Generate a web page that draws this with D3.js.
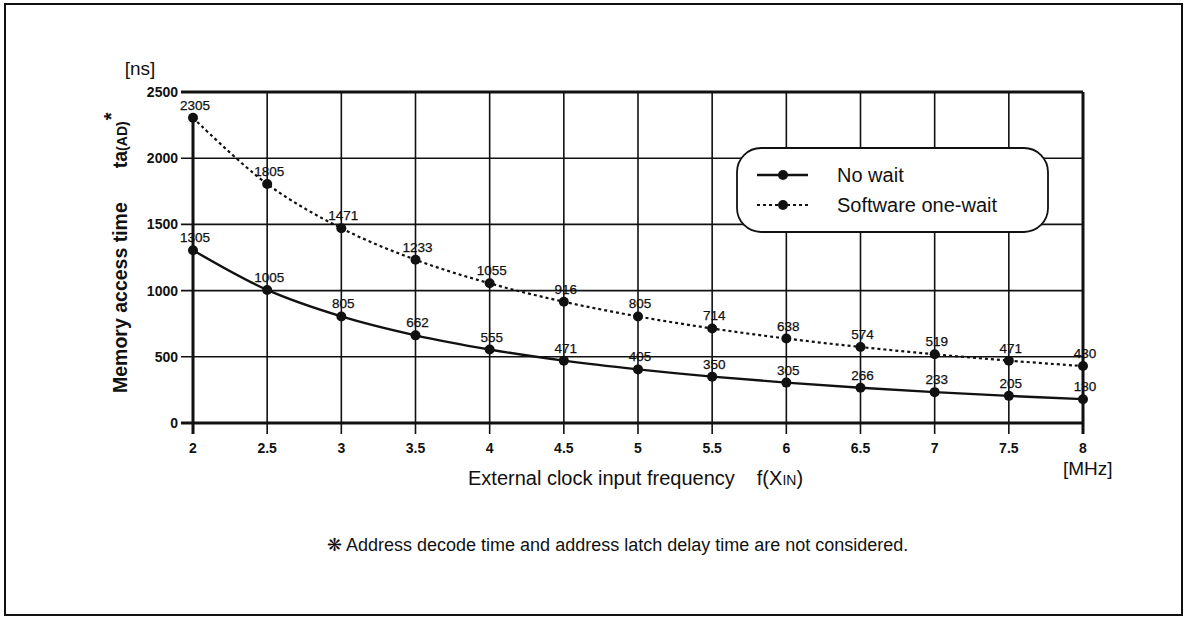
<!DOCTYPE html>
<html>
<head>
<meta charset="utf-8">
<script src="https://cdn.jsdelivr.net/npm/d3@7"></script>
<style>
  html, body { margin: 0; padding: 0; background: #fff; }
  svg { display: block; }
  text { font-family: "Liberation Sans", Arial, Helvetica, sans-serif; fill: #111; }
</style>
</head>
<body>
<svg id="chart" width="1188" height="618"></svg>
<script>
// Clock frequency (MHz) on the x axis
const frequencies = [2, 2.5, 3, 3.5, 4, 4.5, 5, 5.5, 6, 6.5, 7, 7.5, 8];
// Memory access time ta(AD) in ns
const noWait = [1305, 1005, 805, 662, 555, 471, 405, 350, 305, 266, 233, 205, 180];
const oneWait = [2305, 1805, 1471, 1233, 1055, 916, 805, 714, 638, 574, 519, 471, 430];
const yTicks = [0, 500, 1000, 1500, 2000, 2500];
const xTicks = [2, 2.5, 3, 3.5, 4, 4.5, 5, 5.5, 6, 6.5, 7, 7.5, 8];
const seriesNames = ["No wait", "Software one-wait"];

const svg = d3.select("#chart");
const ink = "#111";

// outer frame
svg.append("rect")
  .attr("x", 5).attr("y", 4).attr("width", 1177).attr("height", 611)
  .attr("fill", "none").attr("stroke", ink).attr("stroke-width", 2);

const x = d3.scaleLinear().domain([2, 8]).range([193, 1083]);
const y = d3.scaleLinear().domain([0, 2500]).range([423, 92]);

const grid = svg.append("g");

// horizontal grid lines with left tick stubs
grid.selectAll("line.h")
  .data(yTicks)
  .join("line")
  .attr("x1", 181).attr("x2", x(8))
  .attr("y1", d => y(d)).attr("y2", d => y(d))
  .attr("stroke", ink)
  .attr("stroke-width", d => (d === 0 || d === 2500) ? 3 : 1.6);

// vertical grid lines with bottom tick stubs
grid.selectAll("line.v")
  .data(xTicks)
  .join("line")
  .attr("x1", d => x(d)).attr("x2", d => x(d))
  .attr("y1", d => d === 2 ? y(oneWait[0]) : y(2500))
  .attr("y2", y(0) + 11)
  .attr("stroke", ink)
  .attr("stroke-width", d => (d === 2 || d === 8) ? 3 : 1.6);

// y tick labels
svg.append("g").selectAll("text")
  .data(yTicks)
  .join("text")
  .attr("x", 178).attr("y", d => y(d) + 5)
  .attr("text-anchor", "end")
  .attr("font-size", 14).attr("font-weight", "bold")
  .text(d => d);

// x tick labels
svg.append("g").selectAll("text")
  .data(xTicks)
  .join("text")
  .attr("x", d => x(d)).attr("y", 453)
  .attr("text-anchor", "middle")
  .attr("font-size", 14).attr("font-weight", "bold")
  .text(d => d);

// curves
const line = d3.line()
  .x((d, i) => x(frequencies[i]))
  .y(d => y(d))
  .curve(d3.curveCatmullRom.alpha(0.5));

svg.append("path").datum(oneWait)
  .attr("d", line).attr("fill", "none")
  .attr("stroke", ink).attr("stroke-width", 2.2)
  .attr("stroke-dasharray", "3,3");

svg.append("path").datum(noWait)
  .attr("d", line).attr("fill", "none")
  .attr("stroke", ink).attr("stroke-width", 2.4);

// points and value labels
[noWait, oneWait].forEach(series => {
  const g = svg.append("g");
  g.selectAll("circle")
    .data(series)
    .join("circle")
    .attr("cx", (d, i) => x(frequencies[i]))
    .attr("cy", d => y(d))
    .attr("r", 5)
    .attr("fill", ink);
  g.selectAll("text")
    .data(series)
    .join("text")
    .attr("x", (d, i) => x(frequencies[i]) + 2)
    .attr("y", d => y(d) - 8)
    .attr("text-anchor", "middle")
    .attr("font-size", 13.5)
    .attr("stroke", ink).attr("stroke-width", 0.25)
    .text(d => d);
});

// legend
const lg = svg.append("g");
lg.append("rect")
  .attr("x", 737).attr("y", 148).attr("width", 311).attr("height", 84)
  .attr("rx", 24).attr("ry", 24)
  .attr("fill", "#fff").attr("stroke", ink).attr("stroke-width", 1.8);
[0, 1].forEach(i => {
  const ly = 175 + i * 30;
  lg.append("line")
    .attr("x1", 757).attr("x2", 808).attr("y1", ly).attr("y2", ly)
    .attr("stroke", ink).attr("stroke-width", i === 0 ? 2.4 : 2)
    .attr("stroke-dasharray", i === 0 ? null : "3,3");
  lg.append("circle").attr("cx", 783).attr("cy", ly).attr("r", 5).attr("fill", ink);
  lg.append("text")
    .attr("x", 837).attr("y", ly + 7)
    .attr("font-size", 20)
    .text(seriesNames[i]);
});

// y axis title
const yt = svg.append("text")
  .attr("transform", "translate(127,393) rotate(-90)")
  .attr("font-size", 19.5).attr("font-weight", "bold");
yt.append("tspan").text("Memory access time");
yt.append("tspan").attr("dx", 34).text("ta");
yt.append("tspan").attr("font-size", 14).text("(AD)");
yt.append("tspan").attr("font-size", 20).attr("dy", -9).attr("dx", 1).text("*");

svg.append("text")
  .attr("x", 140).attr("y", 75)
  .attr("text-anchor", "middle")
  .attr("font-size", 19)
  .text("[ns]");

// x axis title
const xt = svg.append("text")
  .attr("x", 468).attr("y", 485)
  .attr("font-size", 20);
xt.append("tspan").text("External clock input frequency");
xt.append("tspan").attr("dx", 22).text("f(X");
xt.append("tspan").attr("font-size", 14).text("IN");
xt.append("tspan").text(")");

svg.append("text")
  .attr("x", 1063).attr("y", 475)
  .attr("font-size", 19)
  .text("[MHz]");

// footnote
svg.append("text")
  .attr("x", 327).attr("y", 551)
  .attr("font-size", 18)
  .text("\u274B Address decode time and address latch delay time are not considered.");
</script>
</body>
</html>
